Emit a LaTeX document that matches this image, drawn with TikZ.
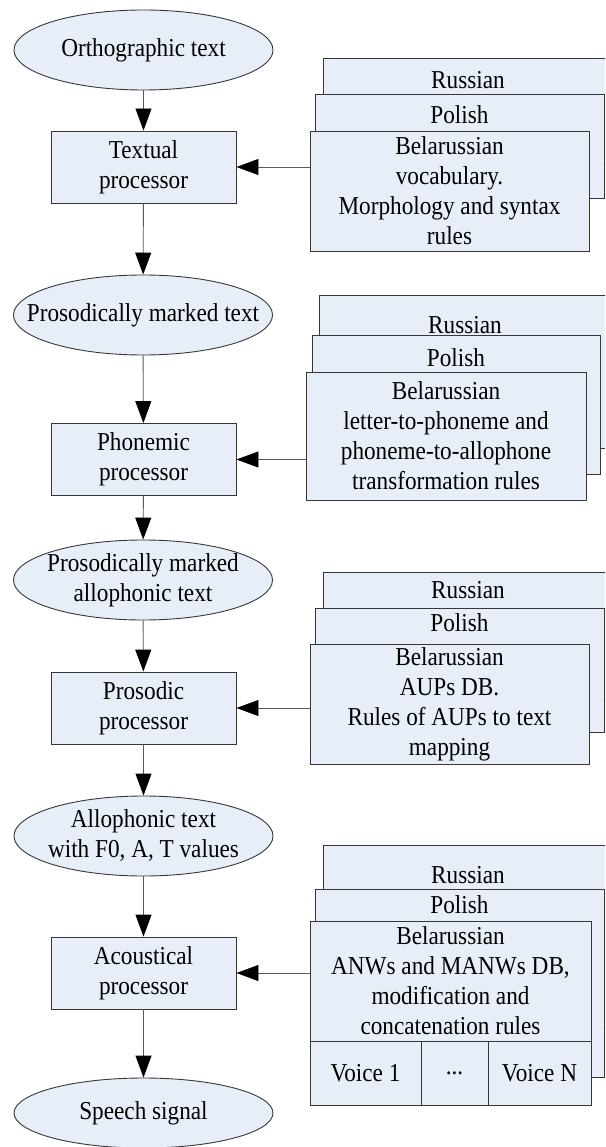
\documentclass[tikz,border=0pt]{standalone}
\usepackage{fontspec}
\setmainfont{Liberation Serif}[FakeStretch=0.9]
\usepackage{xcolor}
\usepackage{tikz}
\usetikzlibrary{shapes.geometric,arrows.meta,positioning}

\definecolor{boxfill}{RGB}{232,238,248}
\definecolor{edgecol}{RGB}{55,55,55}

\begin{document}
\begin{tikzpicture}[
    x=1pt, y=-1pt,
    font=\fontsize{25.8}{30}\selectfont,
    term/.style={ellipse, draw=edgecol, fill=boxfill, line width=0.9pt, minimum width=259pt, minimum height=80pt, inner sep=0pt},
    txt/.style={align=center, inner sep=0pt},
    proc/.style={rectangle, draw=edgecol, fill=boxfill, line width=0.9pt, minimum width=185pt, minimum height=72pt, align=center, inner sep=0pt},
    lang/.style={rectangle, draw=edgecol, fill=boxfill, line width=0.9pt, anchor=north west, inner sep=0pt},
    rules/.style={rectangle, draw=edgecol, fill=boxfill, line width=0.9pt, align=center, inner sep=0pt, outer sep=0pt},
    arrow/.style={-{Triangle[length=22pt,width=16pt,color=black]}, draw=black!65, line width=0.9pt},
]
\useasboundingbox (0,0) rectangle (605,1147);
\clip (0,0) rectangle (605,1147);

% Main chain
\node[term, label={[txt]center:Orthographic text}] (ortho) at (143.5,50) {};
\node[proc] (textual) at (143.5,167) {Textual\\ processor};
\node[term, label={[txt]center:Prosodically marked text}] (prosmark) at (143,315) {};
\node[proc] (phonemic) at (143.5,459.5) {Phonemic\\ processor};
\node[term, label={[txt]center:Prosodically marked\\ allophonic text}] (allomark) at (143,580) {};
\node[proc] (prosodic) at (143.5,708) {Prosodic\\ processor};
\node[term, label={[txt]center:Allophonic text\\ with F0, A, T values}] (allotext) at (143.5,836) {};
\node[proc] (acoustic) at (143.5,973) {Acoustical\\ processor};
\node[term, minimum height=70pt, label={[txt]center:Speech signal}] (speech) at (143.5,1113) {};

\draw[arrow] (ortho) -- (textual);
\draw[arrow] (textual) -- (prosmark);
\draw[arrow] (prosmark) -- (phonemic);
\draw[arrow] (phonemic) -- (allomark);
\draw[arrow] (allomark) -- (prosodic);
\draw[arrow] (prosodic) -- (allotext);
\draw[arrow] (allotext) -- (acoustic);
\draw[arrow] (acoustic) -- (speech);

% Textual resources
\node[lang, minimum width=290pt, minimum height=105pt] (rus1) at (323,58) {};
\node[txt] (rus1t) at (468,80) {Russian};
\node[lang, minimum width=289pt, minimum height=104pt] (pol1) at (315,94) {};
\node[txt] (pol1t) at (459.5,115) {Polish};
\node[rules, minimum width=279pt, minimum height=120pt] (bel1) at (449.5,191) {Belarussian\\ vocabulary.\\ Morphology and syntax\\ rules};
\draw[arrow] (bel1.west |- textual.east) -- (textual.east);

% Phonemic resources
\node[lang, minimum width=292pt, minimum height=153pt] (rus2) at (319,295) {};
\node[txt] (rus2t) at (465,325) {Russian};
\node[lang, minimum width=288pt, minimum height=139pt] (pol2) at (312,335) {};
\node[txt] (pol2t) at (456,358) {Polish};
\node[rules, minimum width=280pt, minimum height=128pt] (bel2) at (446,436) {Belarussian\\ letter-to-phoneme and\\ phoneme-to-allophone\\ transformation rules};
\draw[arrow] (bel2.west |- phonemic.east) -- (phonemic.east);

% Prosodic resources
\node[lang, minimum width=290pt, minimum height=128pt] (rus3) at (323,572) {};
\node[txt] (rus3t) at (468,590) {Russian};
\node[lang, minimum width=289pt, minimum height=124pt] (pol3) at (315,608) {};
\node[txt] (pol3t) at (459.5,623) {Polish};
\node[rules, minimum width=279pt, minimum height=120pt] (bel3) at (449.5,704) {Belarussian\\ AUPs DB.\\ Rules of AUPs to text\\ mapping};
\draw[arrow] (bel3.west |- prosodic.east) -- (prosodic.east);

% Acoustical resources
\node[lang, minimum width=290pt, minimum height=182pt] (rus4) at (323,845) {};
\node[txt] (rus4t) at (468,875) {Russian};
\node[lang, minimum width=289pt, minimum height=188pt] (pol4) at (315,889) {};
\node[txt] (pol4t) at (459.5,905) {Polish};
\node[rules, minimum width=281pt, minimum height=120pt] (bel4) at (450.5,981) {Belarussian\\ ANWs and MANWs DB,\\ modification and\\ concatenation rules};
\node[rules, minimum width=111pt, minimum height=64pt, anchor=north west] (voice1) at (bel4.south west) {Voice 1};
\node[rules, minimum width=67pt, minimum height=64pt, right=0pt of voice1] (voicedots) {...};
\node[rules, minimum width=103pt, minimum height=64pt, right=0pt of voicedots] (voicen) {Voice N};
\draw[arrow] (bel4.west |- acoustic.east) -- (acoustic.east);
\end{tikzpicture}
\end{document}
